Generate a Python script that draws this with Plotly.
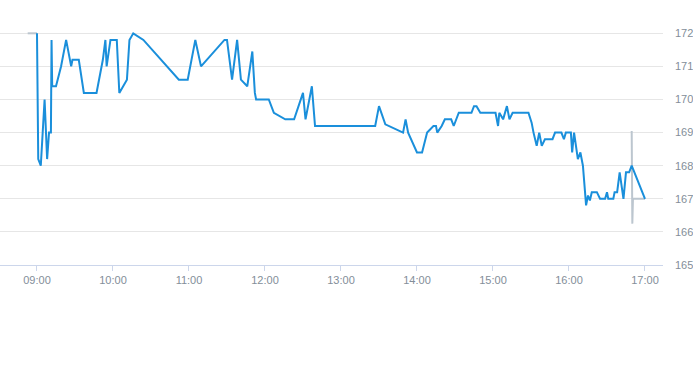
import plotly.graph_objects as go

DAY = "2024-01-02 "

times = ["09:00:00","09:01:00","09:03:00","09:06:00","09:08:00","09:09:30","09:11:00","09:11:30","09:12:00",
         "09:15:00","09:19:00","09:23:00","09:27:00","09:28:00","09:33:00","09:36:00","09:37:00","09:47:00",
         "09:52:00","09:54:00","09:55:00","09:58:00","10:03:00","10:05:00","10:11:00","10:13:00","10:16:00",
         "10:24:00","10:52:00","10:59:00","11:05:00","11:09:30","11:28:00","11:30:00","11:34:00","11:38:00",
         "11:41:00","11:46:00","11:50:00","11:52:00","11:53:00","12:03:00","12:07:00","12:16:00","12:23:00",
         "12:30:00","12:32:00","12:37:00","12:39:30","13:27:00","13:30:00","13:35:00","13:49:00","13:51:00",
         "13:53:00","14:00:00","14:04:00","14:08:00","14:13:00","14:15:00","14:16:00","14:19:30","14:22:00",
         "14:27:00","14:29:00","14:33:00","14:43:00","14:45:00","14:47:00","14:50:00","15:02:00","15:04:00",
         "15:05:00","15:08:00","15:11:00","15:13:00","15:15:30","15:28:00","15:30:30","15:32:00","15:34:30",
         "15:36:30","15:38:30","15:41:00","15:47:00","15:49:00","15:54:00","15:56:00","15:57:30","16:01:30",
         "16:02:30","16:04:00","16:07:00","16:09:00","16:11:00","16:13:30","16:15:00","16:16:30","16:18:00",
         "16:22:00","16:24:30","16:28:30","16:30:00","16:31:00","16:35:00","16:36:00","16:38:00","16:40:00",
         "16:43:00","16:45:00","16:47:30","16:49:30","17:00:00"]
prices = [172.0,168.2,168.0,170.0,168.2,169.0,169.0,171.8,170.4,
          170.4,171.0,171.8,171.0,171.2,171.2,170.4,170.2,170.2,
          171.2,171.8,171.0,171.8,171.8,170.2,170.6,171.8,172.0,
          171.8,170.6,170.6,171.8,171.0,171.8,171.8,170.6,171.8,
          170.6,170.4,171.45,170.2,170.0,170.0,169.6,169.4,169.4,
          170.2,169.4,170.4,169.2,169.2,169.8,169.25,169.0,169.4,
          169.0,168.4,168.4,169.0,169.2,169.2,169.0,169.2,169.4,
          169.4,169.2,169.6,169.6,169.8,169.8,169.6,169.6,169.2,
          169.6,169.4,169.8,169.4,169.6,169.6,169.3,169.0,168.6,
          169.0,168.6,168.8,168.8,169.0,169.0,168.8,169.0,169.0,
          168.4,169.0,168.2,168.4,168.0,166.8,167.1,166.95,167.2,
          167.2,167.0,167.0,167.2,167.0,167.0,167.2,167.2,167.8,
          167.0,167.8,167.8,168.0,167.0]

ext_times = ["08:52:40","09:00:00", None, "16:49:30","16:50:00","16:50:30","17:00:00"]
ext_prices = [172.0,172.0, None, 169.05,166.25,167.0,167.0]

tick_times = ["09:00","10:00","11:00","12:00","13:00","14:00","15:00","16:00","17:00"]
y_ticks = [165,166,167,168,169,170,171,172]

def ts(t):
    return None if t is None else DAY + t

fig = go.Figure()
fig.add_trace(go.Scatter(x=[ts(t) for t in ext_times], y=ext_prices, mode="lines",
                         line=dict(color="#bcc6cf", width=2), connectgaps=False,
                         hoverinfo="skip", showlegend=False))
fig.add_trace(go.Scatter(x=[ts(t) for t in times], y=prices, mode="lines",
                         line=dict(color="#1a8fdb", width=2), showlegend=False))

fig.update_layout(
    width=693, height=365,
    margin=dict(l=0, r=30, t=30, b=100, autoexpand=False),
    paper_bgcolor="white", plot_bgcolor="white",
    font=dict(family="Liberation Sans, Arial, sans-serif", size=11, color="#838e99"),
    showlegend=False,
)
fig.update_xaxes(
    range=[DAY + "08:30:48", DAY + "17:14:13"],
    tickvals=[DAY + t for t in tick_times], ticktext=tick_times,
    showgrid=False, showline=True, linecolor="#ccd6eb", linewidth=1,
    ticks="outside", ticklen=5, tickcolor="#ccd6eb",
    zeroline=False, automargin=False,
    tickfont=dict(size=11, color="#838e99"),
)
fig.update_yaxes(
    side="right", range=[165, 172.1], tickvals=y_ticks,
    showgrid=True, gridcolor="#e6e6e6", gridwidth=1,
    zeroline=False, showline=False, ticks="",
    ticklabelstandoff=11, automargin=False,
    tickfont=dict(size=11, color="#838e99"),
)

fig.write_html("out.html", config={"displayModeBar": False},
               post_script="document.body.style.margin='0';document.body.style.overflow='hidden';")
